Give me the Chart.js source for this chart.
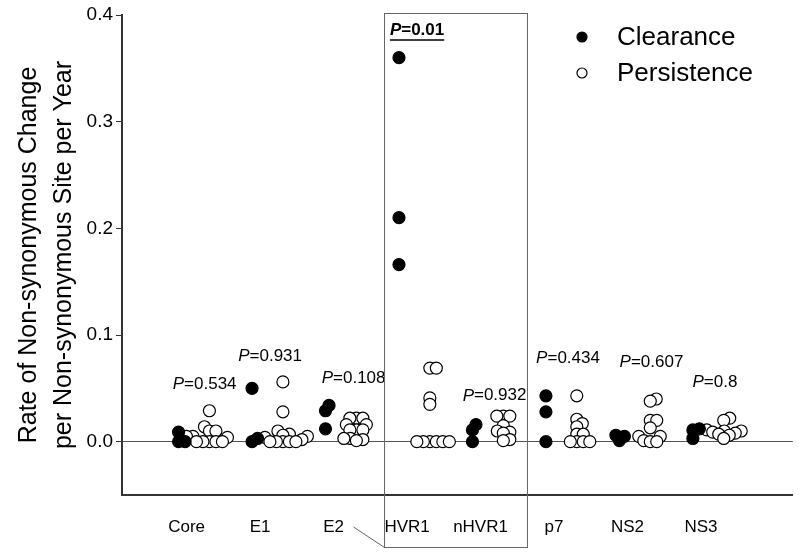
<!DOCTYPE html>
<html>
<head>
<meta charset="utf-8">
<script src="https://cdn.jsdelivr.net/npm/chart.js@4.4.1/dist/chart.umd.min.js"></script>
<style>
html, body { margin: 0; padding: 0; background: #fff; }
</style>
</head>
<body>
<canvas id="myChart" width="800" height="555"></canvas>
<script>
// categories and p values
var regions = ['Core', 'E1', 'E2', 'HVR1', 'nHVR1', 'p7', 'NS2', 'NS3'];
var pValues = ['0.534', '0.931', '0.108', '0.01', '0.932', '0.434', '0.607', '0.8'];

// rate per region, one list per region
var clearance = [
    [0.009, 0, 0],
    [0.050, 0.003, 0],
    [0.034, 0.029, 0.012],
    [0.360, 0.210, 0.166],
    [0.016, 0.011, 0],
    [0.043, 0.028, 0],
    [0.006, 0.005, 0.001],
    [0.012, 0.011, 0.003]
];
var persistence = [
    [0.029, 0.014, 0.010, 0.010, 0.005, 0.005, 0.004, 0, 0, 0, 0, 0],
    [0.056, 0.028, 0.010, 0.007, 0.006, 0.005, 0.004, 0.002, 0, 0, 0, 0, 0],
    [0.022, 0.022, 0.022, 0.016, 0.016, 0.011, 0.011, 0.011, 0.003, 0.003, 0.002, 0.001],
    [0.069, 0.069, 0.041, 0.035, 0, 0, 0, 0, 0, 0],
    [0.024, 0.024, 0.024, 0.015, 0.010, 0.009, 0.008, 0.002, 0.001],
    [0.043, 0.021, 0.017, 0.014, 0.007, 0.007, 0, 0, 0, 0],
    [0.040, 0.038, 0.020, 0.020, 0.013, 0.005, 0.005, 0.001, 0, 0],
    [0.022, 0.020, 0.011, 0.010, 0.010, 0.009, 0.008, 0.007, 0.006, 0.003]
];
var yTicks = [0, 0.1, 0.2, 0.3, 0.4];

var FONT = "'Liberation Sans', Arial, sans-serif";
var RADIUS = 6;

// base points, swarm offsets are added once scales exist
function basePoints(groups, shift) {
    var pts = [];
    groups.forEach(function(vals, i) {
        vals.forEach(function(v) {
            pts.push({ x: i + 1 + shift, y: v, g: i });
        });
    });
    return pts;
}

// simple beeswarm in pixel space, bottom row first
function swarm(points, chart) {
    var xs = chart.scales.x, ys = chart.scales.y;
    var pxPerUnit = xs.getPixelForValue(1) - xs.getPixelForValue(0);
    var minDist = 6.3;
    var groups = {};
    points.forEach(function(p) { (groups[p.g] = groups[p.g] || []).push(p); });
    Object.keys(groups).forEach(function(k) {
        var list = groups[k].slice().sort(function(a, b) { return a.y - b.y; });
        var placed = [];
        list.forEach(function(p) {
            var py = ys.getPixelForValue(p.y);
            var off = 0;
            for (var n = 0; n < 400; n++) {
                var cand = (n % 2 ? 1 : -1) * Math.ceil(n / 2) * 0.5;
                var ok = placed.every(function(q) {
                    var dx = q.ox - cand, dy = q.py - py;
                    return dx * dx + dy * dy >= minDist * minDist;
                });
                if (ok) { off = cand; break; }
            }
            placed.push({ ox: off, py: py });
            p.x = p.x + off / pxPerUnit;
        });
    });
}

var extras = {
    id: 'extras',
    afterDraw: function(chart) {
        var ctx = chart.ctx, xs = chart.scales.x, ys = chart.scales.y, area = chart.chartArea;
        var labelY = [0.054, 0.080, 0.059, 0.386, 0.043, 0.078, 0.074, 0.056];
        var labelDx = [18, 10, 20, 10, 14, 14, 24, 14];
        ctx.save();
        ctx.fillStyle = '#000';
        ctx.textBaseline = 'middle';
        pValues.forEach(function(p, i) {
            var bold = i === 3;
            var cx = xs.getPixelForValue(i + 1) + labelDx[i];
            var cy = ys.getPixelForValue(labelY[i]);
            var f1 = (bold ? 'bold italic ' : 'italic ') + '17px ' + FONT;
            var f2 = (bold ? 'bold ' : '') + '17px ' + FONT;
            ctx.font = f1;
            var w1 = ctx.measureText('P').width;
            ctx.font = f2;
            var w2 = ctx.measureText('=' + p).width;
            var x0 = cx - (w1 + w2) / 2;
            ctx.textAlign = 'left';
            ctx.font = f1;
            ctx.fillText('P', x0, cy);
            ctx.font = f2;
            ctx.fillText('=' + p, x0 + w1, cy);
            if (bold) {
                ctx.strokeStyle = '#000';
                ctx.lineWidth = 1.5;
                ctx.beginPath();
                ctx.moveTo(x0, cy + 10);
                ctx.lineTo(x0 + w1 + w2, cy + 10);
                ctx.stroke();
            }
        });

        // box round HVR1 / nHVR1
        var bl = Math.round(xs.getPixelForValue(3.69)) + 0.5;
        var br = Math.round(xs.getPixelForValue(5.63)) + 0.5;
        var bt = area.top - 1.5, bb = area.bottom + 52.5;
        ctx.strokeStyle = '#666';
        ctx.lineWidth = 1;
        ctx.strokeRect(bl, bt, br - bl, bb - bt);
        ctx.beginPath();
        ctx.moveTo(xs.getPixelForValue(3) + 20, area.bottom + 32);
        ctx.lineTo(bl, bb);
        ctx.stroke();

        // legend
        var lx = 582, items = [['Clearance', '#000'], ['Persistence', '#fff']];
        items.forEach(function(it, i) {
            var ly = 37 + i * 36;
            ctx.beginPath();
            ctx.arc(lx, ly, 5, 0, Math.PI * 2);
            ctx.fillStyle = it[1];
            ctx.fill();
            ctx.strokeStyle = '#000';
            ctx.lineWidth = 1.2;
            ctx.stroke();
            ctx.fillStyle = '#000';
            ctx.font = '26px ' + FONT;
            ctx.textAlign = 'left';
            ctx.fillText(it[0], 617, ly + 1);
        });
        ctx.restore();
    }
};

var clearPts = basePoints(clearance, -0.11);
var persPts = basePoints(persistence, 0.31);

var ctx = document.getElementById('myChart').getContext('2d');
var chart = new Chart(ctx, {
    type: 'scatter',
    data: {
        datasets: [{
            label: 'Clearance',
            data: clearPts,
            backgroundColor: '#000',
            borderColor: '#000',
            borderWidth: 1.2,
            pointRadius: RADIUS,
            pointHoverRadius: RADIUS
        }, {
            label: 'Persistence',
            data: persPts,
            backgroundColor: '#fff',
            borderColor: '#000',
            borderWidth: 1.2,
            pointRadius: RADIUS,
            pointHoverRadius: RADIUS
        }]
    },
    options: {
        responsive: false,
        animation: false,
        layout: { padding: { top: 15, right: 5, left: 0, bottom: 0 } },
        plugins: { legend: { display: false }, tooltip: { enabled: false } },
        scales: {
            x: {
                type: 'linear',
                min: 0.12,
                max: 9.25,
                afterFit: function(s) { s.height = 60; },
                afterBuildTicks: function(s) {
                    s.ticks = regions.map(function(r, i) { return { value: i + 1 }; });
                },
                ticks: {
                    autoSkip: false,
                    maxRotation: 0,
                    padding: 14,
                    color: '#000',
                    font: { family: FONT, size: 17 },
                    callback: function(v) { return regions[Math.round(v) - 1] || ''; }
                },
                grid: { display: false },
                border: { display: true, color: '#333', width: 2 }
            },
            y: {
                min: -0.05,
                max: 0.4,
                afterFit: function(s) { s.width = 122; },
                afterBuildTicks: function(s) {
                    s.ticks = yTicks.map(function(v) { return { value: v }; });
                },
                ticks: {
                    padding: 3,
                    color: '#000',
                    font: { family: FONT, size: 19 },
                    callback: function(v) { return Number(v).toFixed(1); }
                },
                grid: {
                    drawOnChartArea: true,
                    color: function(c) { return c.tick && c.tick.value === 0 ? '#555' : 'rgba(0,0,0,0)'; },
                    tickColor: '#333',
                    tickLength: 6,
                    lineWidth: 1
                },
                border: { display: true, color: '#333', width: 2 },
                title: {
                    display: true,
                    text: ['Rate of Non-synonymous Change', 'per Non-synonymous Site per Year'],
                    color: '#000',
                    font: { family: FONT, size: 25, lineHeight: 1.4 },
                    padding: { top: 12, bottom: 0 }
                }
            }
        }
    },
    plugins: [extras]
});

swarm(clearPts, chart);
swarm(persPts, chart);
chart.update('none');
</script>
</body>
</html>
